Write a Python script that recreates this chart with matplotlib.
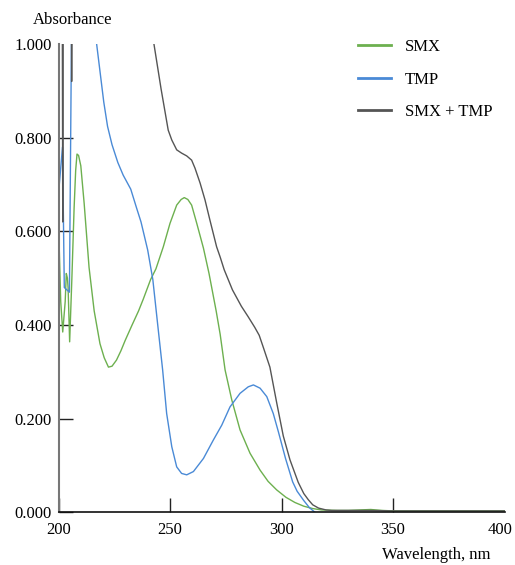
import matplotlib
matplotlib.use("Agg")
import matplotlib.pyplot as plt
from matplotlib.ticker import FormatStrFormatter
import matplotlib.transforms as mtransforms

# ---------------- data ----------------
smx_x = [200, 201.0, 201.9, 203.0, 203.5, 204.0, 204.3, 205.0, 206.0, 207.0, 207.7, 208.3,
         209.0, 210, 211.5, 213.7, 216, 218.6, 220.5, 222.4, 224, 226, 228, 229.9, 233, 235.9, 238,
         241.3, 243.7, 247, 250, 253, 255, 256.4, 258, 259.7, 262, 265, 267.5, 270.7,
         272.5, 274.7, 277.7, 281.4, 285.9, 290.4, 294, 297.8, 302, 306, 310, 314, 318, 325, 330, 340, 345,
         350, 360, 370, 380, 390, 400]
smx_y = [0.62, 0.45, 0.385, 0.45, 0.51, 0.50, 0.48, 0.364, 0.50, 0.65, 0.73, 0.765,
         0.762, 0.74, 0.66, 0.523, 0.43, 0.36, 0.33, 0.31, 0.312, 0.325, 0.345, 0.367, 0.40, 0.43, 0.455,
         0.497, 0.52, 0.567, 0.617, 0.656, 0.668, 0.672, 0.668, 0.656, 0.617, 0.564, 0.51, 0.43,
         0.38, 0.304, 0.240, 0.176, 0.126, 0.090, 0.066, 0.048, 0.032, 0.021, 0.013, 0.008, 0.005, 0.004, 0.004, 0.006, 0.004,
         0.003, 0.003, 0.003, 0.003, 0.003, 0.003]

tmp_x = [200, 201.8, 202.6, 204.9, 206.3, 212, 216, 217.1, 220.3, 222, 224, 226.6, 229,
         232.4, 235, 237, 240, 242.3, 244.5, 246.7, 248.5, 250.8, 253, 255.2, 257.5, 260.5, 265,
         269.4, 273.2, 276.9, 281.4, 285.1, 287.4, 290.4, 293.4, 296.3, 298.6, 301.8, 305, 307,
         310, 312.5, 315, 318]
tmp_y = [0.68, 0.78, 0.48, 0.47, 1.3, 1.3, 1.05, 1.0, 0.876, 0.824, 0.785, 0.747, 0.72,
         0.69, 0.65, 0.62, 0.56, 0.497, 0.40, 0.304, 0.211, 0.140, 0.097, 0.083, 0.080, 0.087, 0.115,
         0.154, 0.186, 0.225, 0.254, 0.268, 0.272, 0.265, 0.247, 0.211, 0.172, 0.115, 0.065, 0.045,
         0.025, 0.01, 0.0, -0.01]

mix_x = [200, 201.6, 201.9, 202.2, 205.6, 205.9, 206.2, 238, 242.8, 246, 249.2, 250.8, 253,
         255.2, 257.5, 259.7, 261.2, 263.5, 265.7, 267.9, 270.9, 272.5, 274.3, 278, 282, 285, 288, 290, 292,
         294.8, 297.8, 300.8, 303.8, 307.5, 310, 312, 314, 316.6, 320, 322.5, 330, 340,
         350, 360, 370, 380, 390, 400]
mix_y = [1.3, 1.3, 0.62, 1.3, 1.3, 0.92, 1.3, 1.15, 1.0, 0.904, 0.816, 0.795, 0.774,
         0.767, 0.761, 0.752, 0.735, 0.703, 0.667, 0.624, 0.567, 0.545, 0.518, 0.475, 0.44, 0.418, 0.395, 0.378, 0.35,
         0.31, 0.235, 0.163, 0.112, 0.064, 0.04, 0.027, 0.016, 0.009, 0.005, 0.004, 0.004, 0.004,
         0.003, 0.003, 0.003, 0.003, 0.003, 0.003]

series_labels = ["SMX", "TMP", "SMX + TMP"]
x_ticks = [200, 250, 300, 350, 400]
y_ticks = [0.0, 0.2, 0.4, 0.6, 0.8, 1.0]

# ---------------- figure ----------------
plt.rcParams['font.family'] = ['Liberation Serif', 'DejaVu Serif']
fig = plt.figure(figsize=(5.15, 5.65), dpi=100)
ax = fig.add_axes([58.5/515, 1-512.3/565, (504.5-58.5)/515, (512.3-44)/565])

green = '#6db04f'
blue = '#4a8ad6'
dark = '#555555'
ax.plot(smx_x, smx_y, color=green, lw=1.0, label=series_labels[0])
ax.plot(tmp_x, tmp_y, color=blue, lw=1.0, label=series_labels[1])
ax.plot(mix_x, mix_y, color=dark, lw=1.0, label=series_labels[2])

ax.set_xlim(200, 400)
ax.set_ylim(0, 1.0)
ax.set_xticks(x_ticks)
ax.set_yticks(y_ticks)
ax.yaxis.set_major_formatter(FormatStrFormatter('%.3f'))
ax.tick_params(axis='both', direction='in', length=10, width=1, labelsize=12, color='#222222')
ax.tick_params(axis='y', pad=5)
ax.tick_params(axis='x', pad=7)

# hide tick marks that fall at the axis ends (as in the reference)
xt = ax.xaxis.get_major_ticks()
xt[-1].tick1line.set_visible(False)
yt = ax.yaxis.get_major_ticks()
yt[-1].tick1line.set_visible(False)

# nudge the last x label inward so it stays on the canvas
lbl = ax.get_xticklabels()[-1]
lbl.set_transform(lbl.get_transform() + mtransforms.ScaledTranslation(-4/100, 0, fig.dpi_scale_trans))

for s in ['top', 'right']:
    ax.spines[s].set_visible(False)
ax.spines['left'].set_color('#777777')
ax.spines['left'].set_linewidth(1.5)
ax.spines['bottom'].set_color('#111111')
ax.spines['bottom'].set_linewidth(1.2)

fig.text(33/515, 1-20/565, "Absorbance", fontsize=12, ha='left', va='center')
fig.text(490/515, 1-555/565, "Wavelength, nm", fontsize=12, ha='right', va='center')

leg = ax.legend(loc='upper left', bbox_to_anchor=(358/515, 1-39/565),
                bbox_transform=fig.transFigure, frameon=False, fontsize=12,
                handlelength=2.0, handletextpad=0.8, labelspacing=1.0,
                borderpad=0, borderaxespad=0)
for h in leg.legend_handles:
    h.set_linewidth(2.0)

fig.savefig("out.png", dpi=100)
